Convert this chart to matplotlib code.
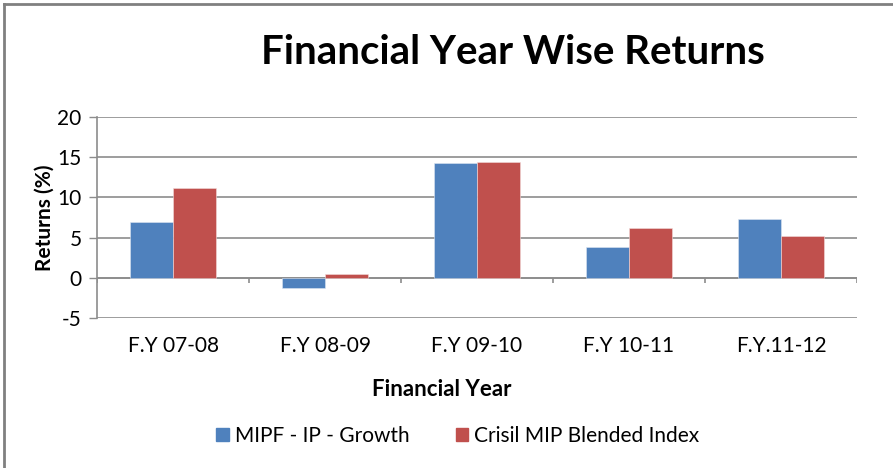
import numpy as np
import matplotlib
matplotlib.use("Agg")
import matplotlib.pyplot as plt
from matplotlib.patches import Patch

plt.rcParams['font.family'] = ['Lato', 'DejaVu Sans']

# Data
years = ["F.Y 07-08", "F.Y 08-09", "F.Y 09-10", "F.Y 10-11", "F.Y.11-12"]
mipf_growth = [6.9, -1.3, 14.3, 3.8, 7.3]
crisil_index = [11.2, 0.5, 14.4, 6.2, 5.2]
yticks = [-5, 0, 5, 10, 15, 20]

blue = '#4F81BD'
red = '#C0504D'
grid_col = '#8C8C8C'

fig = plt.figure(figsize=(8.93, 4.68), dpi=100)
ax = fig.add_axes([97 / 893, 1 - 318 / 468, 760 / 893, 201 / 468])

x = np.arange(len(years))
w = 1 / 3.5  # excel gap width 150%
ax.bar(x - w / 2, mipf_growth, w, color=blue, edgecolor='#DCE6F2', linewidth=0.4, zorder=3)
ax.bar(x + w / 2, crisil_index, w, color=red, edgecolor='#F2DCDB', linewidth=0.4, zorder=3)

ax.set_xlim(-0.5, len(years) - 0.5)
ax.set_ylim(-5, 20)
ax.set_yticks(yticks)
ax.set_yticklabels([str(v) for v in yticks], fontsize=15)
ax.yaxis.grid(True, color=grid_col, linewidth=1.2, zorder=0)
ax.tick_params(axis='y', length=6, color=grid_col, pad=5, width=1)

# category axis sits at zero, labels at the bottom
ax.axhline(0, color=grid_col, linewidth=1.2, zorder=2)
ax.vlines(np.arange(len(years) + 1) - 0.5, -0.6, 0, color=grid_col, linewidth=1.2, zorder=2)
ax.set_xticks(x)
ax.set_xticklabels(years, fontsize=15)
ax.tick_params(axis='x', length=0, pad=13)

for s in ['top', 'right', 'bottom']:
    ax.spines[s].set_visible(False)
ax.spines['left'].set_color(grid_col)
ax.spines['left'].set_linewidth(1.2)

ax.set_ylabel("Returns (%)", fontsize=15, fontweight='bold', labelpad=2)
ax.set_xlabel("Financial Year", fontsize=16, fontweight='bold')
ax.xaxis.label.set_va('center')
ax.xaxis.set_label_coords((442 - 97) / 760, (318 - 390) / 201)

fig.text(513 / 893, 1 - 52 / 468, "Financial Year Wise Returns", fontsize=29,
         fontweight='bold', ha='center', va='center')

handles = [Patch(color=blue, label="MIPF - IP - Growth"),
           Patch(color=red, label="Crisil MIP Blended Index")]
fig.legend(handles=handles, loc='center', bbox_to_anchor=(458 / 893, 1 - 436 / 468),
           ncol=2, frameon=False, fontsize=15, handlelength=0.6, handleheight=0.6,
           handletextpad=0.3, columnspacing=2.2)

# outer chart frame (top and left visible)
fig.add_artist(plt.Line2D([4 / 893, 1], [1 - 4 / 468, 1 - 4 / 468], color='#808080', linewidth=2))
fig.add_artist(plt.Line2D([4 / 893, 4 / 893], [0, 1 - 4 / 468], color='#808080', linewidth=2))

fig.savefig("out.png", dpi=100)
